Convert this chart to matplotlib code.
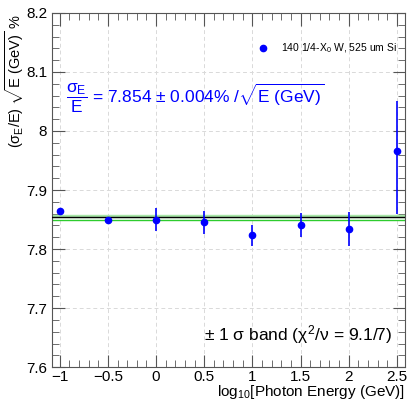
import numpy as np
import matplotlib.pyplot as plt
from matplotlib.ticker import MultipleLocator

plt.rcParams['font.family'] = ['Liberation Sans', 'DejaVu Sans']
plt.rcParams['mathtext.fontset'] = 'custom'
plt.rcParams['mathtext.rm'] = 'Liberation Sans'
plt.rcParams['mathtext.it'] = 'Liberation Sans'

# measured points
log_e = [-1.0, -0.5, 0.0, 0.5, 1.0, 1.5, 2.0, 2.5]
res = [7.865, 7.849, 7.850, 7.845, 7.823, 7.841, 7.834, 7.966]
err_lo = [0.004, 0.004, 0.020, 0.020, 0.018, 0.020, 0.029, 0.107]
err_hi = [0.004, 0.004, 0.020, 0.020, 0.018, 0.020, 0.029, 0.085]

# fit result
fit_val = 7.854
fit_err = 0.004

fig = plt.figure(figsize=(4.11, 4.03), dpi=100)
ax = fig.add_axes([0.1265, 0.089, 0.858, 0.879])

ax.set_xlim(-1.08, 2.58)
ax.set_ylim(7.6, 8.2)

ax.axhspan(fit_val, fit_val + fit_err, color='#a8e6a8', zorder=2)
ax.axhline(fit_val - fit_err, color='#2ecc2e', lw=1.0, zorder=2)
ax.axhline(fit_val, color='black', lw=1.0, zorder=3)

ax.errorbar(log_e, res, yerr=[err_lo, err_hi], fmt='o', color='blue', ms=4.5,
            elinewidth=1.2, capsize=0, zorder=4)
ax.plot([], [], 'o', color='blue', ms=4.5, label='140 1/4-X$_0$ W, 525 um Si')

ax.grid(True, ls=(0, (4, 3)), color='#d9d9d9', lw=0.7)
ax.set_axisbelow(True)

ax.xaxis.set_minor_locator(MultipleLocator(0.1))
ax.yaxis.set_minor_locator(MultipleLocator(0.02))
ax.set_xticks([-1, -0.5, 0, 0.5, 1, 1.5, 2, 2.5])
ax.set_xticklabels(['\u22121', '\u22120.5', '0', '0.5', '1', '1.5', '2', '2.5'])
ax.set_yticks([7.6, 7.7, 7.8, 7.9, 8.0, 8.1, 8.2])
ax.set_yticklabels(['7.6', '7.7', '7.8', '7.9', '8', '8.1', '8.2'])
ax.tick_params(which='both', direction='in', top=True, right=True,
               labelsize=11, colors='#555555', labelcolor='black')
ax.tick_params(which='major', length=9)
ax.tick_params(which='minor', length=5)
ax.tick_params(axis='x', pad=2)
for s in ax.spines.values():
    s.set_color('#555555')

ax.set_xlabel('log$_{10}$[Photon Energy (GeV)]', fontsize=11, loc='right')
ax.xaxis.set_label_coords(1.0, -0.045)
ax.set_ylabel(r'($\sigma_E$/E) $\sqrt{\mathrm{E\ (GeV)}}$ %', fontsize=10.5,
              loc='top')
ax.yaxis.set_label_coords(-0.075, 0.995)

ax.legend(loc='upper right', bbox_to_anchor=(1.005, 0.945), frameon=False,
          fontsize=7.5, handletextpad=1.0, handlelength=1.5)

ax.text(0.04, 0.745,
        r'$\dfrac{\sigma_E}{E}$ = 7.854 $\pm$ 0.004% /$\sqrt{\mathrm{E\ (GeV)}}$',
        transform=ax.transAxes, color='blue', fontsize=12.5)
ax.text(0.43, 0.075, r'$\pm$ 1 $\sigma$ band ($\chi^2$/$\nu$ = 9.1/7)',
        transform=ax.transAxes, color='black', fontsize=12.5)

fig.savefig('out.png', dpi=100)
